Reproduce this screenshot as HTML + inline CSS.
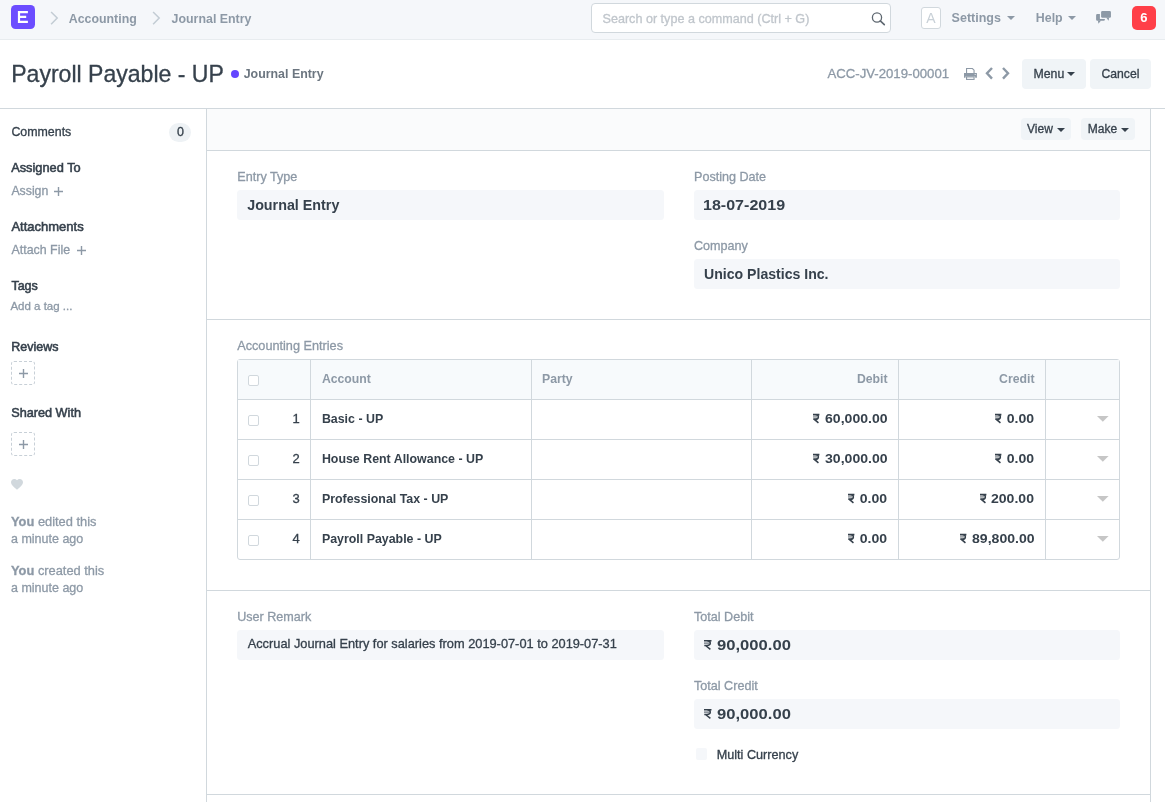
<!DOCTYPE html>
<html><head><meta charset="utf-8"><title>Payroll Payable - UP</title>
<style>
html,body{margin:0;padding:0;}
body{width:1165px;height:802px;overflow:hidden;position:relative;background:#fff;font-family:"Liberation Sans",sans-serif;color:#36414c;}
.t{position:absolute;white-space:nowrap;line-height:1;}
#w{position:absolute;left:0;top:0;width:1165px;height:802px;will-change:transform;}
.r{position:absolute;display:block;}
</style></head><body><div id="w">
<div class="r" style="left:0px;top:0px;width:1165px;height:39px;background:#f5f7fa;"></div>
<div class="r" style="left:0px;top:39px;width:1165px;height:1px;background:#e8ecef;"></div>
<div class="r" style="left:11px;top:5px;width:24px;height:24px;background:#6c4dff;border-radius:4.5px;"></div>
<svg class="r" style="left:11px;top:5px" width="24" height="24" viewBox="11 5 24 24"><path d="M17.9 11H27.9V13.2H20.1V15.8H26.2V17.9H20.1V20.8H27.9V23H17.9Z" fill="#fff"></path></svg>
<svg class="r" style="left:50px;top:11.3px" width="9" height="14" viewBox="0 0 9 14"><path d="M1.1 1L7.2 7L1.1 13.2" fill="none" stroke="#c3ccd4" stroke-width="1.5"></path></svg>
<svg class="r" style="left:152px;top:11.3px" width="9" height="14" viewBox="0 0 9 14"><path d="M1.1 1L7.2 7L1.1 13.2" fill="none" stroke="#c3ccd4" stroke-width="1.5"></path></svg>
<div class="t" style="top: 13.009px; font-size: 12.36px; color: rgb(141, 153, 166); font-weight: 700; left: 68.8px;">Accounting</div>
<div class="t" style="top: 13px; font-size: 12.4px; color: rgb(141, 153, 166); font-weight: 700; left: 171.6px;">Journal Entry</div>
<div class="r" style="left:591px;top:3px;width:300px;height:30px;background:#fff;border:1px solid #d1d8dd;box-sizing:border-box;border-radius:4px;"></div>
<div class="t" style="top: 13.011px; font-size: 12.6px; color: rgb(192, 198, 204); left: 602.5px; -webkit-text-stroke: 0.3px rgb(192, 198, 204);">Search or type a command (Ctrl + G)</div>
<svg class="r" style="left:871px;top:11px" width="15" height="15" viewBox="0 0 15 15"><circle cx="6" cy="6.5" r="4.6" fill="none" stroke="#5e6770" stroke-width="1.3"></circle><path d="M9.3 9.8L13.3 13.6" stroke="#5e6770" stroke-width="1.6" stroke-linecap="round"></path></svg>
<div class="r" style="left:921px;top:7px;width:20px;height:22px;background:#fff;border:1px solid #d1d8dd;box-sizing:border-box;border-radius:3px;"></div>
<div class="t" style="top: 11.009px; font-size: 14px; color: rgb(200, 208, 215); left: 926.3px; -webkit-text-stroke: 0px;">A</div>
<div class="t" style="top: 12.014px; font-size: 12.5px; color: rgb(141, 153, 166); font-weight: 700; left: 951.6px;">Settings</div>
<svg class="r" style="left:1007.2px;top:16px" width="8" height="4" viewBox="0 0 8 4"><path d="M0 0H8L4 4Z" fill="#8d99a6"></path></svg>
<div class="t" style="top: 12px; font-size: 12.4px; color: rgb(141, 153, 166); font-weight: 700; left: 1035.8px;">Help</div>
<svg class="r" style="left:1068.2px;top:16px" width="8" height="4" viewBox="0 0 8 4"><path d="M0 0H8L4 4Z" fill="#8d99a6"></path></svg>
<svg class="r" style="left:1094px;top:9px" width="20" height="17" viewBox="0 0 20 17"><rect x="7.1" y="2" width="9.85" height="6.7" rx="1.3" fill="#8d99a6"></rect><path d="M12.1 8.5L14.6 11.8L15.1 8.5Z" fill="#8d99a6"></path><path d="M3.3 5H5.9V10H10.9V10.6Q10.9 11.8 9.7 11.8H3.3Q2.1 11.8 2.1 10.6V6.2Q2.1 5 3.3 5Z" fill="#8d99a6"></path><path d="M3.9 11.5L4.4 14.8L7.1 11.5Z" fill="#8d99a6"></path></svg>
<div class="r" style="left:1132px;top:6px;width:24px;height:24px;background:#ff3f48;border-radius:5px;"></div>
<div class="t" style="top: 11.012px; font-size: 13px; color: rgb(255, 255, 255); font-weight: 700; left: 1140.2px;">6</div>
<div class="r" style="left:0px;top:108px;width:1165px;height:1px;background:#d1d8dd;"></div>
<div class="t" style="top: 63.006px; font-size: 23.05px; color: rgb(54, 65, 76); left: 11.2px; -webkit-text-stroke: 0.3px rgb(54, 65, 76);">Payroll Payable - UP</div>
<div class="r" style="left:231px;top:70px;width:8px;height:8px;background:#6446ff;border-radius:4px;"></div>
<div class="t" style="top: 68px; font-size: 12.4px; color: rgb(108, 118, 128); font-weight: 700; left: 243.7px;">Journal Entry</div>
<div class="t" style="top: 67.002px; font-size: 13.2px; color: rgb(141, 153, 166); left: 827.4px; -webkit-text-stroke: 0.3px rgb(141, 153, 166);">ACC-JV-2019-00001</div>
<svg class="r" style="left:964px;top:68px" width="13" height="12" viewBox="0 0 13 12"><path d="M2.55 5.2V0.55H8.4L10.05 2.2V5.2" fill="none" stroke="#8d99a6" stroke-width="1.1"></path><path d="M-0.2 5H12.9V9.8H11.2V8.4H1.5V9.8H-0.2Z" fill="#8d99a6"></path><rect x="2.55" y="8.9" width="7.5" height="2.5" fill="none" stroke="#8d99a6" stroke-width="1.1"></rect><rect x="10.6" y="6" width="1.2" height="1" fill="#dfe4e8"></rect></svg>
<svg class="r" style="left:985px;top:67px" width="9" height="13" viewBox="0 0 9 13"><path d="M7 1L2 6.3L7 11.6" fill="none" stroke="#8d99a6" stroke-width="2.4"></path></svg>
<svg class="r" style="left:1001px;top:67px" width="9" height="13" viewBox="0 0 9 13"><path d="M2 1L7 6.3L2 11.6" fill="none" stroke="#8d99a6" stroke-width="2.4"></path></svg>
<div class="r" style="left:1022px;top:59px;width:64px;height:30px;background:#f0f4f7;border-radius:4px;"></div>
<div class="t" style="top: 68.012px; font-size: 12.3px; color: rgb(54, 65, 76); left: 1033.5px; -webkit-text-stroke: 0.3px rgb(54, 65, 76);">Menu</div>
<svg class="r" style="left:1067px;top:72px" width="8" height="4" viewBox="0 0 8 4"><path d="M0 0H8L4 4Z" fill="#36414c"></path></svg>
<div class="r" style="left:1090px;top:59px;width:61px;height:30px;background:#f0f4f7;border-radius:4px;"></div>
<div class="t" style="top: 68.014px; font-size: 12.2px; color: rgb(54, 65, 76); left: 1101.5px; -webkit-text-stroke: 0.3px rgb(54, 65, 76);">Cancel</div>
<div class="r" style="left:206px;top:109px;width:1px;height:693px;background:#d1d8dd;"></div>
<div class="r" style="left:1150px;top:109px;width:1px;height:693px;background:#d1d8dd;"></div>
<div class="r" style="left:207px;top:109px;width:943px;height:41px;background:#fafbfc;"></div>
<div class="r" style="left:207px;top:150px;width:943px;height:1px;background:#d1d8dd;"></div>
<div class="r" style="left:1021px;top:118px;width:50px;height:22px;background:#f0f4f7;border-radius:4px;"></div>
<div class="t" style="top: 123.012px; font-size: 12px; color: rgb(54, 65, 76); left: 1027px; -webkit-text-stroke: 0.3px rgb(54, 65, 76);">View</div>
<svg class="r" style="left:1057px;top:128px" width="8" height="4" viewBox="0 0 8 4"><path d="M0 0H8L4 4Z" fill="#36414c"></path></svg>
<div class="r" style="left:1081px;top:118px;width:54px;height:22px;background:#f0f4f7;border-radius:4px;"></div>
<div class="t" style="top: 123.012px; font-size: 12px; color: rgb(54, 65, 76); left: 1087.8px; -webkit-text-stroke: 0.3px rgb(54, 65, 76);">Make</div>
<svg class="r" style="left:1121px;top:128px" width="8" height="4" viewBox="0 0 8 4"><path d="M0 0H8L4 4Z" fill="#36414c"></path></svg>
<div class="r" style="left:207px;top:319px;width:943px;height:1px;background:#d1d8dd;"></div>
<div class="r" style="left:207px;top:590px;width:943px;height:1px;background:#d1d8dd;"></div>
<div class="r" style="left:207px;top:794px;width:943px;height:1px;background:#d1d8dd;"></div>
<div class="t" style="top: 171.002px; font-size: 12.6px; color: rgb(141, 153, 166); left: 237.3px; -webkit-text-stroke: 0.3px rgb(141, 153, 166);">Entry Type</div>
<div class="r" style="left:237px;top:190px;width:427px;height:30px;background:#f5f7fa;border-radius:3.5px;"></div>
<div class="t" style="top: 198.009px; font-size: 14.3px; color: rgb(54, 65, 76); font-weight: 700; left: 247.2px;">Journal Entry</div>
<div class="t" style="top: 171.002px; font-size: 12.6px; color: rgb(141, 153, 166); left: 694px; -webkit-text-stroke: 0.3px rgb(141, 153, 166);">Posting Date</div>
<div class="r" style="left:694px;top:190px;width:426px;height:30px;background:#f5f7fa;border-radius:3.5px;"></div>
<div class="t" style="top: 198.013px; font-size: 14.4px; color: rgb(54, 65, 76); font-weight: 700; left: 703.2px; transform: scaleX(1.115); transform-origin: left center;">18-07-2019</div>
<div class="t" style="top: 240.002px; font-size: 12.6px; color: rgb(141, 153, 166); left: 694px; -webkit-text-stroke: 0.3px rgb(141, 153, 166);">Company</div>
<div class="r" style="left:694px;top:259px;width:426px;height:30px;background:#f5f7fa;border-radius:3.5px;"></div>
<div class="t" style="top: 267.013px; font-size: 14.1px; color: rgb(54, 65, 76); font-weight: 700; left: 704px;">Unico Plastics Inc.</div>
<div class="t" style="top: 340px; font-size: 12.7px; color: rgb(141, 153, 166); left: 237.2px; -webkit-text-stroke: 0.3px rgb(141, 153, 166);">Accounting Entries</div>
<div class="r" style="left:237px;top:359px;width:883px;height:201px;background:#fff;border:1px solid #d1d8dd;box-sizing:border-box;border-radius:3px;"></div>
<div class="r" style="left:238px;top:360px;width:881px;height:39px;background:#f7fafc;"></div>
<div class="r" style="left:238px;top:399px;width:881px;height:1px;background:#d1d8dd;"></div>
<div class="r" style="left:238px;top:439px;width:881px;height:1px;background:#d1d8dd;"></div>
<div class="r" style="left:238px;top:479px;width:881px;height:1px;background:#d1d8dd;"></div>
<div class="r" style="left:238px;top:519px;width:881px;height:1px;background:#d1d8dd;"></div>
<div class="r" style="left:310px;top:360px;width:1px;height:199px;background:#d1d8dd;"></div>
<div class="r" style="left:531px;top:360px;width:1px;height:199px;background:#d1d8dd;"></div>
<div class="r" style="left:751px;top:360px;width:1px;height:199px;background:#d1d8dd;"></div>
<div class="r" style="left:898px;top:360px;width:1px;height:199px;background:#d1d8dd;"></div>
<div class="r" style="left:1045px;top:360px;width:1px;height:199px;background:#d1d8dd;"></div>
<div class="r" style="left:248px;top:375px;width:11px;height:11px;background:#fff;border:1px solid #d1d8dd;box-sizing:border-box;border-radius:2px;"></div>
<div class="t" style="top: 373.014px; font-size: 12.25px; color: rgb(141, 153, 166); font-weight: 700; left: 321.9px;">Account</div>
<div class="t" style="top: 373.014px; font-size: 12.25px; color: rgb(141, 153, 166); font-weight: 700; left: 542px;">Party</div>
<div class="t" style="top: 373.014px; font-size: 12.25px; color: rgb(141, 153, 166); font-weight: 700; right: 277.5px;">Debit</div>
<div class="t" style="top: 373.014px; font-size: 12.25px; color: rgb(141, 153, 166); font-weight: 700; right: 130.5px;">Credit</div>
<div class="r" style="left:248px;top:415px;width:11px;height:11px;background:#fff;border:1px solid #d1d8dd;box-sizing:border-box;border-radius:2px;"></div>
<div class="t" style="top:412.00px;font-size:13px;color:#36414c;right:865.4px;-webkit-text-stroke:0.3px #36414c;">1</div>
<div class="t" style="top: 413px; font-size: 12.4px; color: rgb(54, 65, 76); font-weight: 700; left: 321.9px;">Basic - UP</div>
<div class="t" style="top: 412.004px; font-size: 13.4px; color: rgb(54, 65, 76); font-weight: 700; right: 277.7px; transform: scaleX(1.05); transform-origin: right center;">60,000.00</div>
<svg class="r" style="left:813.00498828125px;top:413.7px;overflow:visible" width="6.40" height="9.3" viewBox="0 0 7.5 9.8" preserveAspectRatio="none"><path d="M0 0.75H7.5M2.6 0.75C5.4 0.75 6.3 1.9 6.3 3.1C6.3 4.5 5.1 5.5 3 5.5H0.3M1.5 5.5L6.4 9.4" fill="none" stroke="#36414c" stroke-width="1.8"></path><path d="M0 3.1H5" stroke="#36414c" stroke-width="0.9"></path></svg>
<div class="t" style="top: 412.004px; font-size: 13.4px; color: rgb(54, 65, 76); font-weight: 700; right: 130.7px; transform: scaleX(1.05); transform-origin: right center;">0.00</div>
<svg class="r" style="left:995.21516328125px;top:413.7px;overflow:visible" width="6.40" height="9.3" viewBox="0 0 7.5 9.8" preserveAspectRatio="none"><path d="M0 0.75H7.5M2.6 0.75C5.4 0.75 6.3 1.9 6.3 3.1C6.3 4.5 5.1 5.5 3 5.5H0.3M1.5 5.5L6.4 9.4" fill="none" stroke="#36414c" stroke-width="1.8"></path><path d="M0 3.1H5" stroke="#36414c" stroke-width="0.9"></path></svg>
<svg class="r" style="left:1097.2px;top:416px" width="11.6" height="5.8" viewBox="0 0 11.6 5.8"><path d="M0 0H11.6L5.8 5.8Z" fill="#c6c6c6"></path></svg>
<div class="r" style="left:248px;top:455px;width:11px;height:11px;background:#fff;border:1px solid #d1d8dd;box-sizing:border-box;border-radius:2px;"></div>
<div class="t" style="top:452.00px;font-size:13px;color:#36414c;right:865.4px;-webkit-text-stroke:0.3px #36414c;">2</div>
<div class="t" style="top: 453px; font-size: 12.4px; color: rgb(54, 65, 76); font-weight: 700; left: 321.9px;">House Rent Allowance - UP</div>
<div class="t" style="top: 452.004px; font-size: 13.4px; color: rgb(54, 65, 76); font-weight: 700; right: 277.7px; transform: scaleX(1.05); transform-origin: right center;">30,000.00</div>
<svg class="r" style="left:813.00498828125px;top:453.7px;overflow:visible" width="6.40" height="9.3" viewBox="0 0 7.5 9.8" preserveAspectRatio="none"><path d="M0 0.75H7.5M2.6 0.75C5.4 0.75 6.3 1.9 6.3 3.1C6.3 4.5 5.1 5.5 3 5.5H0.3M1.5 5.5L6.4 9.4" fill="none" stroke="#36414c" stroke-width="1.8"></path><path d="M0 3.1H5" stroke="#36414c" stroke-width="0.9"></path></svg>
<div class="t" style="top: 452.004px; font-size: 13.4px; color: rgb(54, 65, 76); font-weight: 700; right: 130.7px; transform: scaleX(1.05); transform-origin: right center;">0.00</div>
<svg class="r" style="left:995.21516328125px;top:453.7px;overflow:visible" width="6.40" height="9.3" viewBox="0 0 7.5 9.8" preserveAspectRatio="none"><path d="M0 0.75H7.5M2.6 0.75C5.4 0.75 6.3 1.9 6.3 3.1C6.3 4.5 5.1 5.5 3 5.5H0.3M1.5 5.5L6.4 9.4" fill="none" stroke="#36414c" stroke-width="1.8"></path><path d="M0 3.1H5" stroke="#36414c" stroke-width="0.9"></path></svg>
<svg class="r" style="left:1097.2px;top:456px" width="11.6" height="5.8" viewBox="0 0 11.6 5.8"><path d="M0 0H11.6L5.8 5.8Z" fill="#c6c6c6"></path></svg>
<div class="r" style="left:248px;top:495px;width:11px;height:11px;background:#fff;border:1px solid #d1d8dd;box-sizing:border-box;border-radius:2px;"></div>
<div class="t" style="top:492.00px;font-size:13px;color:#36414c;right:865.4px;-webkit-text-stroke:0.3px #36414c;">3</div>
<div class="t" style="top: 493px; font-size: 12.4px; color: rgb(54, 65, 76); font-weight: 700; left: 321.9px;">Professional Tax - UP</div>
<div class="t" style="top: 492.004px; font-size: 13.4px; color: rgb(54, 65, 76); font-weight: 700; right: 277.7px; transform: scaleX(1.05); transform-origin: right center;">0.00</div>
<svg class="r" style="left:848.21516328125px;top:493.7px;overflow:visible" width="6.40" height="9.3" viewBox="0 0 7.5 9.8" preserveAspectRatio="none"><path d="M0 0.75H7.5M2.6 0.75C5.4 0.75 6.3 1.9 6.3 3.1C6.3 4.5 5.1 5.5 3 5.5H0.3M1.5 5.5L6.4 9.4" fill="none" stroke="#36414c" stroke-width="1.8"></path><path d="M0 3.1H5" stroke="#36414c" stroke-width="0.9"></path></svg>
<div class="t" style="top: 492.004px; font-size: 13.4px; color: rgb(54, 65, 76); font-weight: 700; right: 130.7px; transform: scaleX(1.05); transform-origin: right center;">200.00</div>
<svg class="r" style="left:979.56448671875px;top:493.7px;overflow:visible" width="6.40" height="9.3" viewBox="0 0 7.5 9.8" preserveAspectRatio="none"><path d="M0 0.75H7.5M2.6 0.75C5.4 0.75 6.3 1.9 6.3 3.1C6.3 4.5 5.1 5.5 3 5.5H0.3M1.5 5.5L6.4 9.4" fill="none" stroke="#36414c" stroke-width="1.8"></path><path d="M0 3.1H5" stroke="#36414c" stroke-width="0.9"></path></svg>
<svg class="r" style="left:1097.2px;top:496px" width="11.6" height="5.8" viewBox="0 0 11.6 5.8"><path d="M0 0H11.6L5.8 5.8Z" fill="#c6c6c6"></path></svg>
<div class="r" style="left:248px;top:535px;width:11px;height:11px;background:#fff;border:1px solid #d1d8dd;box-sizing:border-box;border-radius:2px;"></div>
<div class="t" style="top:532.00px;font-size:13px;color:#36414c;right:865.4px;-webkit-text-stroke:0.3px #36414c;">4</div>
<div class="t" style="top: 533px; font-size: 12.4px; color: rgb(54, 65, 76); font-weight: 700; left: 321.9px;">Payroll Payable - UP</div>
<div class="t" style="top: 532.004px; font-size: 13.4px; color: rgb(54, 65, 76); font-weight: 700; right: 277.7px; transform: scaleX(1.05); transform-origin: right center;">0.00</div>
<svg class="r" style="left:848.21516328125px;top:533.7px;overflow:visible" width="6.40" height="9.3" viewBox="0 0 7.5 9.8" preserveAspectRatio="none"><path d="M0 0.75H7.5M2.6 0.75C5.4 0.75 6.3 1.9 6.3 3.1C6.3 4.5 5.1 5.5 3 5.5H0.3M1.5 5.5L6.4 9.4" fill="none" stroke="#36414c" stroke-width="1.8"></path><path d="M0 3.1H5" stroke="#36414c" stroke-width="0.9"></path></svg>
<div class="t" style="top: 532.004px; font-size: 13.4px; color: rgb(54, 65, 76); font-weight: 700; right: 130.7px; transform: scaleX(1.05); transform-origin: right center;">89,800.00</div>
<svg class="r" style="left:960.00498828125px;top:533.7px;overflow:visible" width="6.40" height="9.3" viewBox="0 0 7.5 9.8" preserveAspectRatio="none"><path d="M0 0.75H7.5M2.6 0.75C5.4 0.75 6.3 1.9 6.3 3.1C6.3 4.5 5.1 5.5 3 5.5H0.3M1.5 5.5L6.4 9.4" fill="none" stroke="#36414c" stroke-width="1.8"></path><path d="M0 3.1H5" stroke="#36414c" stroke-width="0.9"></path></svg>
<svg class="r" style="left:1097.2px;top:536px" width="11.6" height="5.8" viewBox="0 0 11.6 5.8"><path d="M0 0H11.6L5.8 5.8Z" fill="#c6c6c6"></path></svg>
<div class="t" style="top: 611.002px; font-size: 12.6px; color: rgb(141, 153, 166); left: 237.2px; -webkit-text-stroke: 0.3px rgb(141, 153, 166);">User Remark</div>
<div class="r" style="left:237px;top:630px;width:427px;height:30px;background:#f5f7fa;border-radius:3.5px;"></div>
<div class="t" style="top: 638.004px; font-size: 12.8px; color: rgb(54, 65, 76); left: 247.7px; -webkit-text-stroke: 0.3px rgb(54, 65, 76);">Accrual Journal Entry for salaries from 2019-07-01 to 2019-07-31</div>
<div class="t" style="top: 611.002px; font-size: 12.6px; color: rgb(141, 153, 166); left: 694px; -webkit-text-stroke: 0.3px rgb(141, 153, 166);">Total Debit</div>
<div class="r" style="left:694px;top:630px;width:426px;height:30px;background:#f5f7fa;border-radius:3.5px;"></div>
<div class="t" style="top: 680.002px; font-size: 12.6px; color: rgb(141, 153, 166); left: 694px; -webkit-text-stroke: 0.3px rgb(141, 153, 166);">Total Credit</div>
<div class="r" style="left:694px;top:699px;width:426px;height:30px;background:#f5f7fa;border-radius:3.5px;"></div>
<svg class="r" style="left:704.4px;top:640.2px;overflow:visible" width="7.50" height="9.8" viewBox="0 0 7.5 9.8" preserveAspectRatio="none"><path d="M0 0.75H7.5M2.6 0.75C5.4 0.75 6.3 1.9 6.3 3.1C6.3 4.5 5.1 5.5 3 5.5H0.3M1.5 5.5L6.4 9.4" fill="none" stroke="#36414c" stroke-width="1.5"></path><path d="M0 3.1H5" stroke="#36414c" stroke-width="0.9"></path></svg>
<div class="t" style="top: 638.011px; font-size: 14.5px; color: rgb(54, 65, 76); font-weight: 700; left: 716.6px; transform: scaleX(1.145); transform-origin: left center;">90,000.00</div>
<svg class="r" style="left:704.4px;top:709.2px;overflow:visible" width="7.50" height="9.8" viewBox="0 0 7.5 9.8" preserveAspectRatio="none"><path d="M0 0.75H7.5M2.6 0.75C5.4 0.75 6.3 1.9 6.3 3.1C6.3 4.5 5.1 5.5 3 5.5H0.3M1.5 5.5L6.4 9.4" fill="none" stroke="#36414c" stroke-width="1.5"></path><path d="M0 3.1H5" stroke="#36414c" stroke-width="0.9"></path></svg>
<div class="t" style="top: 707.011px; font-size: 14.5px; color: rgb(54, 65, 76); font-weight: 700; left: 716.6px; transform: scaleX(1.145); transform-origin: left center;">90,000.00</div>
<div class="r" style="left:695.5px;top:748px;width:11.5px;height:11.5px;background:#f5f7fa;border-radius:2px;"></div>
<div class="t" style="top: 749.014px; font-size: 12.66px; color: rgb(54, 65, 76); left: 716.7px; -webkit-text-stroke: 0.3px rgb(54, 65, 76);">Multi Currency</div>
<div class="t" style="top: 126px; font-size: 12.4px; color: rgb(54, 65, 76); left: 11.4px; -webkit-text-stroke: 0.3px rgb(54, 65, 76);">Comments</div>
<div class="r" style="left:169px;top:123px;width:22px;height:19px;background:#eef2f5;border-radius:10px;"></div>
<div class="t" style="top: 126.014px; font-size: 12.5px; color: rgb(54, 65, 76); left: 177px; -webkit-text-stroke: 0.3px rgb(54, 65, 76);">0</div>
<div class="t" style="top: 162.004px; font-size: 12.8px; color: rgb(54, 65, 76); left: 11.2px; -webkit-text-stroke: 0.55px rgb(54, 65, 76);">Assigned To</div>
<div class="t" style="top: 185.012px; font-size: 12.3px; color: rgb(141, 153, 166); left: 11.4px; -webkit-text-stroke: 0.3px rgb(141, 153, 166);">Assign</div>
<svg class="r" style="left:54px;top:187px" width="9" height="9" viewBox="0 0 9 9"><path d="M4.5 0V9M0 4.5H9" stroke="#8d99a6" stroke-width="1.4"></path></svg>
<div class="t" style="top:220.00px;font-size:13.0px;color:#36414c;left:11.4px;-webkit-text-stroke:0.55px #36414c;">Attachments</div>
<div class="t" style="top: 244.009px; font-size: 12.4px; color: rgb(141, 153, 166); left: 11.5px; -webkit-text-stroke: 0.3px rgb(141, 153, 166);">Attach File</div>
<svg class="r" style="left:76.5px;top:246px" width="9" height="9" viewBox="0 0 9 9"><path d="M4.5 0V9M0 4.5H9" stroke="#8d99a6" stroke-width="1.4"></path></svg>
<div class="t" style="top: 280.014px; font-size: 12.5px; color: rgb(54, 65, 76); left: 11.4px; -webkit-text-stroke: 0.55px rgb(54, 65, 76);">Tags</div>
<div class="t" style="top: 301.004px; font-size: 11.5px; color: rgb(141, 153, 166); left: 10.4px; -webkit-text-stroke: 0.3px rgb(141, 153, 166);">Add a tag ...</div>
<div class="t" style="top: 341.014px; font-size: 12.5px; color: rgb(54, 65, 76); left: 11.2px; -webkit-text-stroke: 0.55px rgb(54, 65, 76);">Reviews</div>
<div class="r" style="left:11px;top:361px;width:24px;height:24px;border:1px dashed #c8d0d7;box-sizing:border-box;border-radius:3px;"></div>
<svg class="r" style="left:18.5px;top:368.5px" width="9" height="9" viewBox="0 0 9 9"><path d="M4.5 0V9M0 4.5H9" stroke="#8d99a6" stroke-width="1.4"></path></svg>
<div class="t" style="top: 407px; font-size: 12.7px; color: rgb(54, 65, 76); left: 11.2px; -webkit-text-stroke: 0.55px rgb(54, 65, 76);">Shared With</div>
<div class="r" style="left:11px;top:432px;width:24px;height:24px;border:1px dashed #c8d0d7;box-sizing:border-box;border-radius:3px;"></div>
<svg class="r" style="left:18.5px;top:439.5px" width="9" height="9" viewBox="0 0 9 9"><path d="M4.5 0V9M0 4.5H9" stroke="#8d99a6" stroke-width="1.4"></path></svg>
<svg class="r" style="left:11px;top:479px" width="12" height="11" viewBox="0 0 24 22"><path d="M12 21.5L10.3 20C4.2 14.5 0 10.8 0 6.3C0 2.7 2.8 0 6.4 0C8.5 0 10.5 1 12 2.5C13.5 1 15.5 0 17.6 0C21.2 0 24 2.7 24 6.3C24 10.8 19.8 14.5 13.7 20Z" fill="#d1d8dd"></path></svg>
<div class="t" style="top: 516.011px; font-size: 12.85px; color: rgb(141, 153, 166); left: 11px; -webkit-text-stroke: 0.3px rgb(141, 153, 166);"><b>You</b> edited this</div>
<div class="t" style="top: 533.014px; font-size: 12.5px; color: rgb(141, 153, 166); left: 11px; -webkit-text-stroke: 0.3px rgb(141, 153, 166);">a minute ago</div>
<div class="t" style="top: 565.011px; font-size: 12.85px; color: rgb(141, 153, 166); left: 11px; -webkit-text-stroke: 0.3px rgb(141, 153, 166);"><b>You</b> created this</div>
<div class="t" style="top: 582.014px; font-size: 12.5px; color: rgb(141, 153, 166); left: 11px; -webkit-text-stroke: 0.3px rgb(141, 153, 166);">a minute ago</div>
</div>
</body></html>
